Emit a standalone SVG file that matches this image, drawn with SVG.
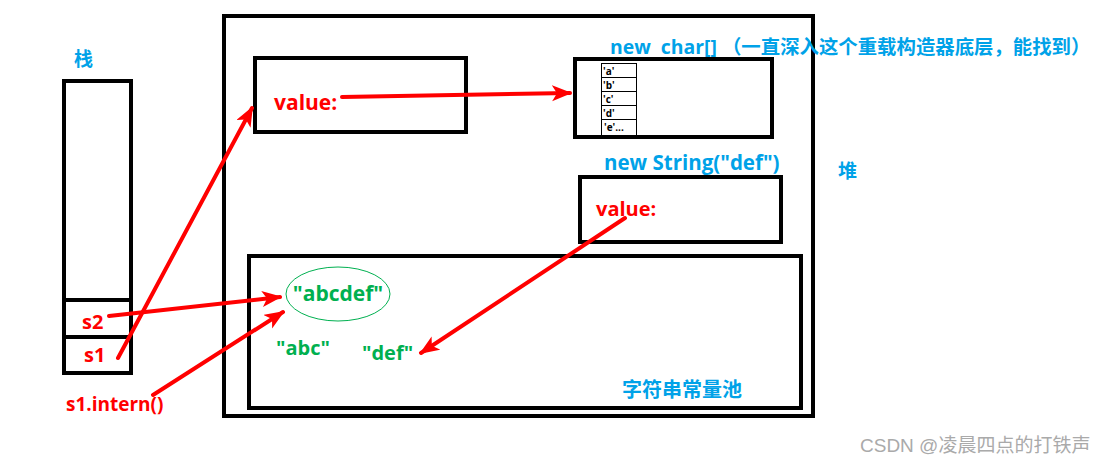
<svg xmlns="http://www.w3.org/2000/svg" width="1106" height="467" viewBox="0 0 1106 467">
<style>
.box{fill:none;stroke:#000;stroke-width:4}
.thin{fill:none;stroke:#000;stroke-width:1}
.blue{fill:#00a2e8;font-family:"Open Sans","Noto Sans CJK SC",sans-serif;font-weight:bold}
.red{fill:#ff0000;font-family:"Open Sans","Noto Sans CJK SC",sans-serif;font-weight:bold}
.green{fill:#00b050;font-family:"Open Sans","Noto Sans CJK SC",sans-serif;font-weight:bold}
.ch{fill:#000;font-family:"Open Sans",sans-serif;font-weight:bold;font-size:10px}
.arr{fill:none;stroke:#ff0000;stroke-width:4;stroke-linecap:round;marker-end:url(#ah)}
</style>
<defs>
<marker id="ah" markerUnits="userSpaceOnUse" markerWidth="22" markerHeight="18" refX="18" refY="8" orient="auto">
<path d="M0,0 L20,8 L0,16 L5,8 Z" fill="#ff0000"/>
</marker>
</defs>
<rect width="1106" height="467" fill="#fff"/>

<g id="stack">
<text class="blue" x="74" y="66" font-size="19">栈</text>
<rect class="box" x="64" y="81" width="67" height="292"/>
<line class="box" x1="64" y1="300" x2="131" y2="300"/>
<line class="box" x1="64" y1="337" x2="131" y2="337"/>
<text class="red" x="82" y="329" font-size="20">s2</text>
<text class="red" x="84" y="362" font-size="20">s1</text>
</g>

<g id="intern-label">
<text class="red" x="66" y="411" font-size="19">s1.intern()</text>
</g>

<g id="heap">
<rect class="box" x="224" y="16" width="589" height="400"/>
<text class="blue" x="838" y="178" font-size="19">堆</text>
</g>

<g id="value1">
<rect class="box" x="255" y="58" width="211" height="74"/>
<text class="red" x="274" y="110" font-size="21">value:</text>
</g>

<g id="chararray">
<text class="blue" x="610" y="54" font-size="19.4" xml:space="preserve">new  char[] （一直深入这个重载构造器底层，能找到）</text>
<rect class="box" x="575" y="59" width="197" height="78"/>
<rect class="thin" x="601.5" y="63.5" width="35" height="72"/>
<line class="thin" x1="601" y1="77.5" x2="637" y2="77.5"/>
<line class="thin" x1="601" y1="91.5" x2="637" y2="91.5"/>
<line class="thin" x1="601" y1="105.5" x2="637" y2="105.5"/>
<line class="thin" x1="601" y1="119.5" x2="637" y2="119.5"/>
<text class="ch" x="603" y="75">'a'</text>
<text class="ch" x="603" y="89">'b'</text>
<text class="ch" x="603" y="103">'c'</text>
<text class="ch" x="603" y="117">'d'</text>
<text class="ch" x="604" y="131">'e'...</text>
</g>

<g id="string-def">
<text class="blue" x="604" y="170" font-size="20.5">new String("def")</text>
<rect class="box" x="580" y="177" width="201" height="65"/>
<text class="red" x="596" y="216" font-size="20">value:</text>
</g>

<g id="pool">
<rect class="box" x="249" y="256" width="552" height="152"/>
<ellipse cx="338" cy="294" rx="52" ry="27" fill="none" stroke="#00b050" stroke-width="1"/>
<text class="green" x="338" y="301" font-size="21" text-anchor="middle">"abcdef"</text>
<text class="green" x="276" y="355" font-size="20">"abc"</text>
<text class="green" x="362" y="360" font-size="20">"def"</text>
<text class="blue" x="622" y="397" font-size="20">字符串常量池</text>
</g>

<g id="connectors">
<line class="arr" x1="118" y1="358" x2="252" y2="108"/>
<line class="arr" x1="109" y1="316" x2="280" y2="297"/>
<line class="arr" x1="153" y1="395" x2="283" y2="312"/>
<line class="arr" x1="342" y1="97" x2="570" y2="93"/>
<line class="arr" x1="625" y1="218" x2="421" y2="353"/>
</g>

<text x="860" y="452" font-family="'Liberation Sans','Noto Sans CJK SC',sans-serif" font-size="19" fill="#aaaaaa">CSDN @凌晨四点的打铁声</text>
</svg>
